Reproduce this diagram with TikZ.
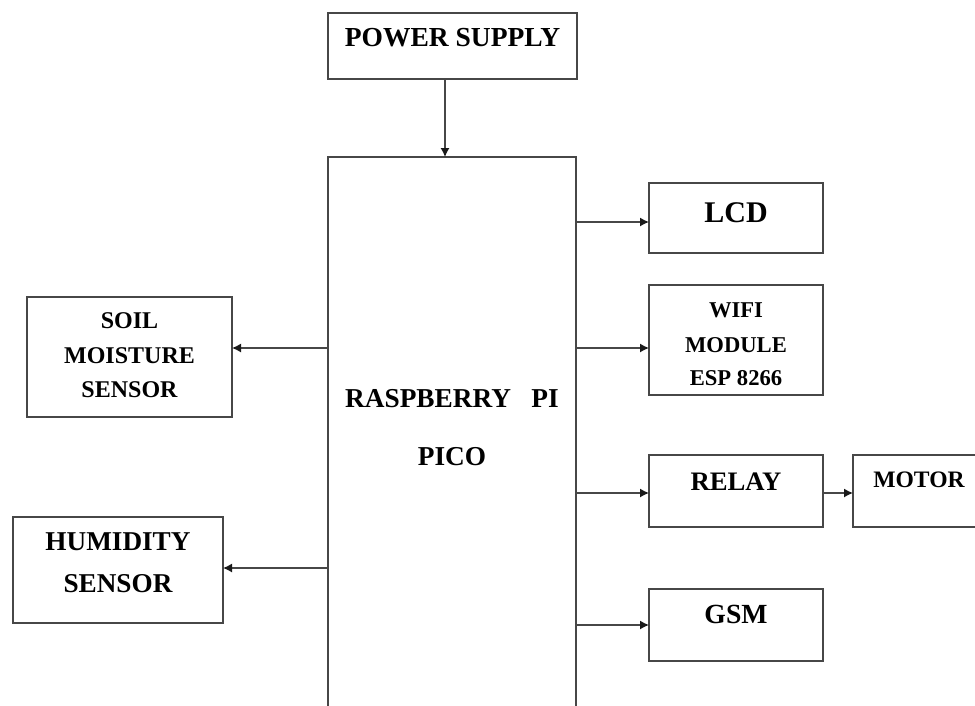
\documentclass[tikz,border=0pt]{standalone}
\usepackage{fontspec}
\setmainfont{Liberation Serif}
\usetikzlibrary{arrows.meta}
\begin{document}
\begin{tikzpicture}[x=1pt,y=-1pt,
  box/.style={draw=black!72,line width=1.3pt,inner sep=0pt,outer sep=0pt},
  lbl/.style={anchor=base,inner sep=0pt,font=\bfseries},
  arr/.style={draw=black!72,line width=1.3pt,-{Latex[length=9pt,width=9pt,color=black!90]}}]
\useasboundingbox (0,0) rectangle (975,705);
% boxes
\node[box,minimum width=249,minimum height=66] (ps) at (452.5,46) {};
\node[box,minimum width=248,minimum height=603] (pi) at (452,458.5) {};
\node[box,minimum width=174,minimum height=70] (lcd) at (736,218) {};
\node[box,minimum width=174,minimum height=110] (wifi) at (736,340) {};
\node[box,minimum width=174,minimum height=72] (relay) at (736,491) {};
\node[box,minimum width=174,minimum height=72] (gsm) at (736,625) {};
\node[box,minimum width=147,minimum height=72] (motor) at (926.5,491) {};
\node[box,minimum width=205,minimum height=120] (soil) at (129.5,357) {};
\node[box,minimum width=210,minimum height=106] (hum) at (118,570) {};
% texts
\node[lbl,font=\bfseries\fontsize{27.5}{32}\selectfont] (pst) at (452.5,46) {POWER SUPPLY};
\node[lbl,font=\bfseries\fontsize{27.3}{32}\selectfont] (pit1) at (452,407) {RASPBERRY\ \ \ PI};
\node[lbl,font=\bfseries\fontsize{27.3}{32}\selectfont] (pit2) at (452,465) {PICO};
\node[lbl,font=\bfseries\fontsize{30}{34}\selectfont] (lcdt) at (736,222) {LCD};
\node[lbl,font=\bfseries\fontsize{22.6}{27}\selectfont] (wifit1) at (736,317) {WIFI};
\node[lbl,font=\bfseries\fontsize{22.6}{27}\selectfont] (wifit2) at (736,352) {MODULE};
\node[lbl,font=\bfseries\fontsize{22.6}{27}\selectfont] (wifit3) at (736,385) {ESP 8266};
\node[lbl,font=\bfseries\fontsize{26.7}{31}\selectfont] (relayt) at (736,490) {RELAY};
\node[lbl,font=\bfseries\fontsize{27.7}{32}\selectfont] (gsmt) at (736,623) {GSM};
\node[lbl,font=\bfseries\fontsize{23.6}{28}\selectfont] (motort) at (919,487) {MOTOR};
\node[lbl,font=\bfseries\fontsize{24}{28}\selectfont] (soilt1) at (129.5,328) {SOIL};
\node[lbl,font=\bfseries\fontsize{24}{28}\selectfont] (soilt2) at (129.5,363) {MOISTURE};
\node[lbl,font=\bfseries\fontsize{24}{28}\selectfont] (soilt3) at (129.5,397) {SENSOR};
\node[lbl,font=\bfseries\fontsize{27.2}{32}\selectfont] (humt1) at (118,550) {HUMIDITY};
\node[lbl,font=\bfseries\fontsize{27.2}{32}\selectfont] (humt2) at (118,592) {SENSOR};
% connector end points
\coordinate (psout) at ([xshift=-7.5pt]ps.south);
\coordinate (lcdin) at ([yshift=-4pt]lcd.west);
\coordinate (wifiin) at ([yshift=-8pt]wifi.west);
\coordinate (relayin) at ([yshift=-2pt]relay.west);
\coordinate (relayout) at ([yshift=-2pt]relay.east);
\coordinate (soilin) at ([yshift=9pt]soil.east);
\coordinate (humin) at ([yshift=2pt]hum.east);
% connectors
\draw[arr] (psout) -- (psout |- pi.north);
\draw[arr] (pi.east |- lcdin) -- (lcdin);
\draw[arr] (pi.east |- wifiin) -- (wifiin);
\draw[arr] (pi.east |- relayin) -- (relayin);
\draw[arr] (pi.east |- gsm.west) -- (gsm.west);
\draw[arr] (relayout) -- (motor.west |- relayout);
\draw[arr] (pi.west |- soilin) -- (soilin);
\draw[arr] (pi.west |- humin) -- (humin);
\end{tikzpicture}
\end{document}
